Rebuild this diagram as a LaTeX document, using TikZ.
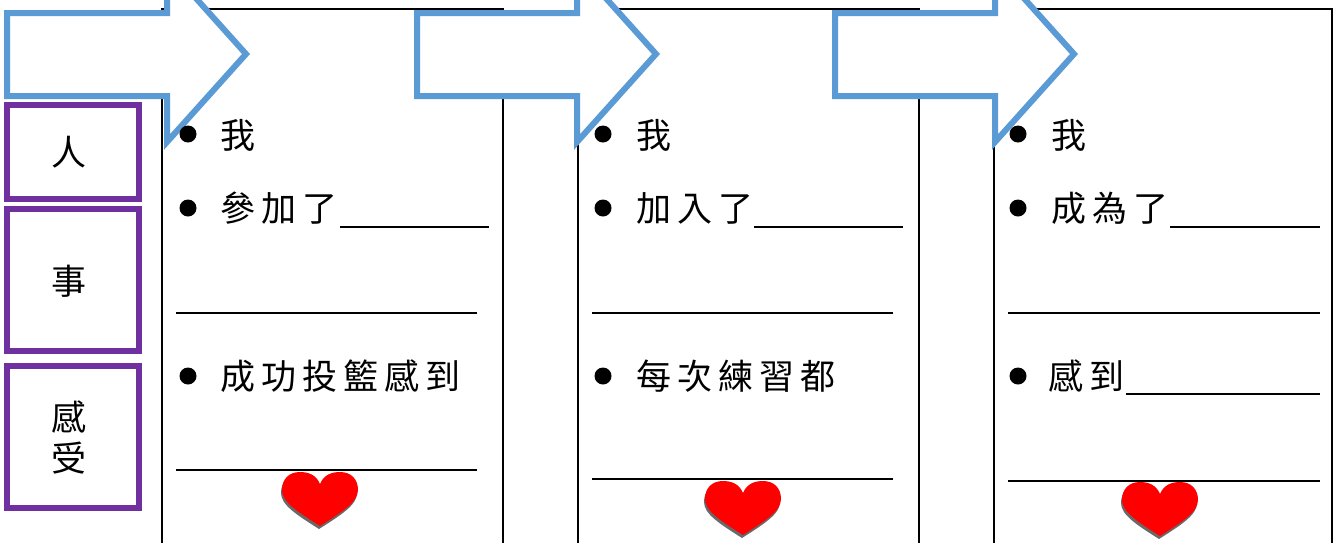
\documentclass[tikz,border=0pt]{standalone}
\usepackage{fontspec}
\newfontfamily\cjk{Noto Sans CJK TC}
\definecolor{arrowblue}{RGB}{91,155,213}
\definecolor{boxpurple}{RGB}{112,48,160}
\definecolor{heartred}{RGB}{255,0,0}
\definecolor{heartshadow}{RGB}{105,105,105}
\newcommand\ls{\kern6pt}
\begin{document}
\begin{tikzpicture}[x=1pt,y=-1pt,
  colbox/.style={draw=black,line width=2pt},
  rulel/.style={draw=black,line width=2pt},
  labelbox/.style={draw=boxpurple,line width=6pt,minimum width=132pt,inner sep=0pt},
  labeltxt/.style={font=\cjk\fontsize{35}{41}\selectfont,align=center,inner sep=0pt},
  bigarrow/.style={draw=arrowblue,line width=6pt,fill=white,line join=miter},
  txt/.style={font=\cjk\fontsize{35}{40}\selectfont,anchor=west,inner sep=0pt},
  bulletdot/.style={fill=black}]
\useasboundingbox (0,0) rectangle (1335,542);
\clip (0,0) rectangle (1335,542);
\fill[white] (0,0) rectangle (1335,542);
% column boxes
\draw[colbox] (162,560) -- (162,9) -- (503,9) -- (503,560);
\draw[colbox] (578,560) -- (578,9) -- (919,9) -- (919,560);
\draw[colbox] (994,560) -- (994,9) -- (1332,9) -- (1332,560);
% arrows
\foreach \dx in {0,410,828}{
  \draw[bigarrow,xshift=\dx pt] (7,13) -- (167,13) -- (167,-34) -- (246,54) -- (167,142) -- (167,96) -- (7,96) -- cycle;
}
% label boxes
\node[labelbox,minimum height=94pt] (ren) at (73,152) {};
\node[labelbox,minimum height=142pt] (shi) at (73,280) {};
\node[labelbox,minimum height=142pt] (gan) at (73,437) {};
\node[labeltxt] (rent) at (69,152) {人};
\node[labeltxt] (shit) at (69,281) {事};
\node[labeltxt] (gant) at (69,437) {感\\受};
% bullets
\foreach \bx in {188,603,1018}{
  \foreach \by in {134,208,376}{
    \fill[bulletdot] (\bx,\by) circle (8.5pt);
  }
}
% column 1
\node[txt] (c1a) at (220,135) {我};
\node[txt] (c1b) at (220,208) {參\ls 加\ls 了};
\node[txt] (c1c) at (220,376) {成\ls 功\ls 投\ls 籃\ls 感\ls 到};
\draw[rulel] (340,227) -- (489,227);
\draw[rulel] (176,313) -- (477,313);
\draw[rulel] (176,470) -- (477,470);
% column 2
\node[txt] (c2a) at (636,135) {我};
\node[txt] (c2b) at (636,208) {加\ls 入\ls 了};
\node[txt] (c2c) at (636,376) {每\ls 次\ls 練\ls 習\ls 都};
\draw[rulel] (754,227) -- (903,227);
\draw[rulel] (592,313) -- (893,313);
\draw[rulel] (592,479) -- (893,479);
% column 3
\node[txt] (c3a) at (1051,135) {我};
\node[txt] (c3b) at (1051,208) {成\ls 為\ls 了};
\node[txt] (c3c) at (1048,376) {感\ls 到};
\draw[rulel] (1170,227) -- (1320,227);
\draw[rulel] (1008,313) -- (1320,313);
\draw[rulel] (1126,394) -- (1320,394);
\draw[rulel] (1008,481) -- (1320,481);
% hearts
\foreach \hx/\hy in {320/472,743/481,1160/482}{
  \begin{scope}[shift={(\hx,\hy)}]
    \fill[heartshadow,shift={(-1,3)}] (0,12) .. controls (4,2) and (13,0) .. (20,0)
      .. controls (31,0) and (38,7) .. (38,18)
      .. controls (38,30) and (22,40) .. (0,54)
      .. controls (-22,40) and (-38,30) .. (-38,18)
      .. controls (-38,7) and (-31,0) .. (-20,0)
      .. controls (-13,0) and (-4,2) .. (0,12) -- cycle;
    \fill[heartred] (0,12) .. controls (4,2) and (13,0) .. (20,0)
      .. controls (31,0) and (38,7) .. (38,18)
      .. controls (38,30) and (22,40) .. (0,54)
      .. controls (-22,40) and (-38,30) .. (-38,18)
      .. controls (-38,7) and (-31,0) .. (-20,0)
      .. controls (-13,0) and (-4,2) .. (0,12) -- cycle;
  \end{scope}
}
\end{tikzpicture}
\end{document}
